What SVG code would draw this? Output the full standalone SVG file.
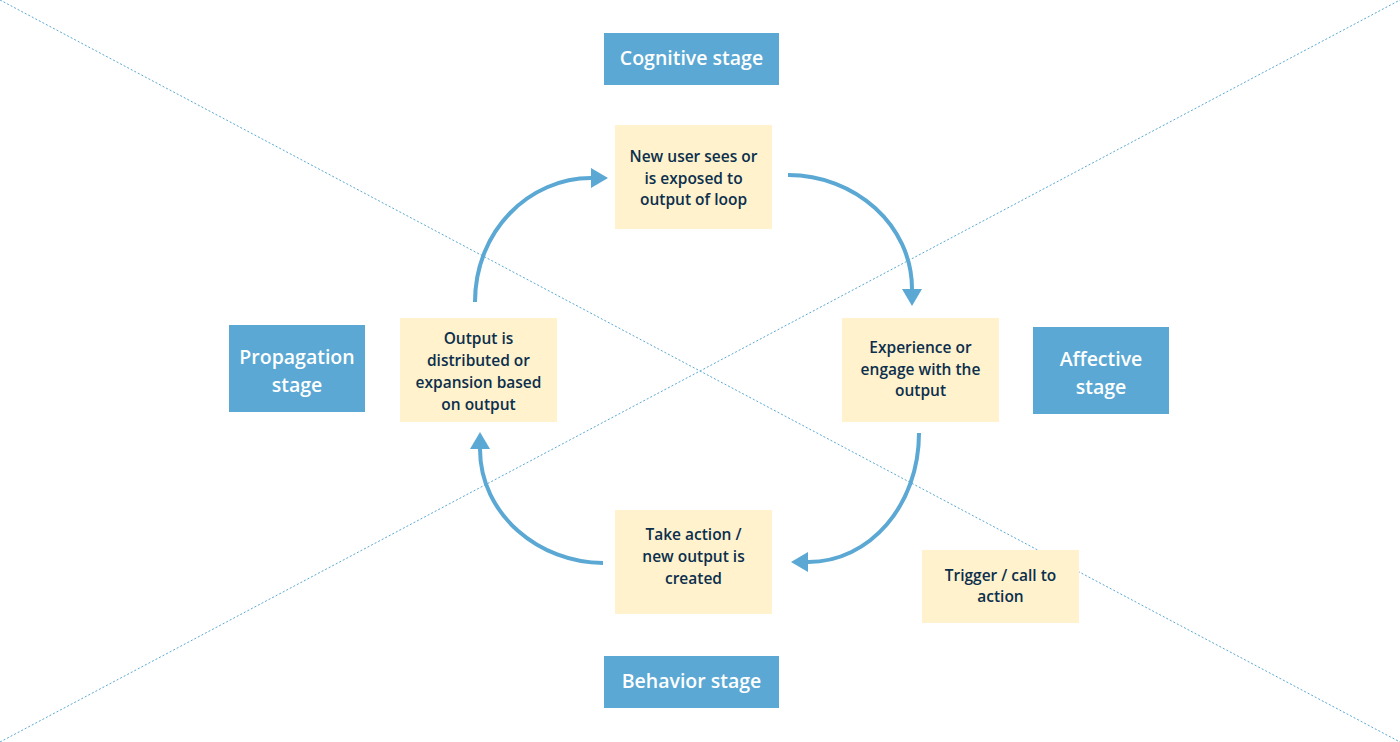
<svg xmlns="http://www.w3.org/2000/svg" width="1400" height="742" viewBox="0 0 1400 742">
<defs>
<style>
.stage{fill:#5aa8d3}
.box{fill:#fff2cc}
.st{font-family:"Open Sans","Liberation Sans",sans-serif;font-size:19.5px;font-weight:600;fill:#ffffff;text-anchor:middle;dominant-baseline:central}
.bt{font-family:"Open Sans","Liberation Sans",sans-serif;font-size:15.5px;font-weight:600;fill:#0b2f4c;text-anchor:middle;dominant-baseline:central}
.dot{stroke:#5aa8d3;stroke-width:1;stroke-dasharray:2 2;fill:none}
.arr{stroke:#5aa8d3;stroke-width:4;fill:none;marker-end:url(#ah)}
</style>
<marker id="ah" markerUnits="userSpaceOnUse" markerWidth="18" markerHeight="22" refX="0" refY="11" orient="auto" viewBox="0 0 18 22">
<path d="M0,1 L17,11 L0,21 Z" fill="#5aa8d3"/>
</marker>
</defs>
<rect width="1400" height="742" fill="#ffffff"/>
<g id="guides">
<line class="dot" x1="0" y1="0" x2="1400" y2="742"/>
<line class="dot" x1="0" y1="742" x2="1400" y2="0"/>
</g>
<g id="connectors">
<path class="arr" d="M475,302 C475,230 530,178 591,178"/>
<path class="arr" d="M788,175 C855,175 912,225 912,289"/>
<path class="arr" d="M919,433 C919,505 870,562 808,562"/>
<path class="arr" d="M603,563 C540,563 480,515 480,449"/>
</g>
<g id="cognitive"><rect class="stage" x="604" y="33" width="175" height="52"/><text class="st" x="691.5" y="57">Cognitive stage</text></g>
<g id="propagation"><rect class="stage" x="229" y="325" width="136" height="87"/><text class="st" x="297" y="356">Propagation</text><text class="st" x="297" y="384">stage</text></g>
<g id="affective"><rect class="stage" x="1033" y="327" width="136" height="87"/><text class="st" x="1101" y="358">Affective</text><text class="st" x="1101" y="386">stage</text></g>
<g id="behavior"><rect class="stage" x="604" y="656" width="175" height="52"/><text class="st" x="691.5" y="680">Behavior stage</text></g>
<g id="new-user"><rect class="box" x="615" y="125" width="157" height="104"/><text class="bt" x="693.5" y="156">New user sees or</text><text class="bt" x="693.5" y="178">is exposed to</text><text class="bt" x="693.5" y="199">output of loop</text></g>
<g id="experience"><rect class="box" x="842" y="318" width="157" height="104"/><text class="bt" x="920.5" y="347">Experience or</text><text class="bt" x="920.5" y="369">engage with the</text><text class="bt" x="920.5" y="390">output</text></g>
<g id="take-action"><rect class="box" x="615" y="510" width="157" height="104"/><text class="bt" x="693.5" y="534">Take action /</text><text class="bt" x="693.5" y="556">new output is</text><text class="bt" x="693.5" y="578">created</text></g>
<g id="output"><rect class="box" x="400" y="318" width="157" height="104"/><text class="bt" x="478.5" y="338">Output is</text><text class="bt" x="478.5" y="360">distributed or</text><text class="bt" x="478.5" y="382">expansion based</text><text class="bt" x="478.5" y="404">on output</text></g>
<g id="trigger"><rect class="box" x="922" y="550" width="157" height="73"/><text class="bt" x="1000.5" y="575">Trigger / call to</text><text class="bt" x="1000.5" y="596">action</text></g>
</svg>
